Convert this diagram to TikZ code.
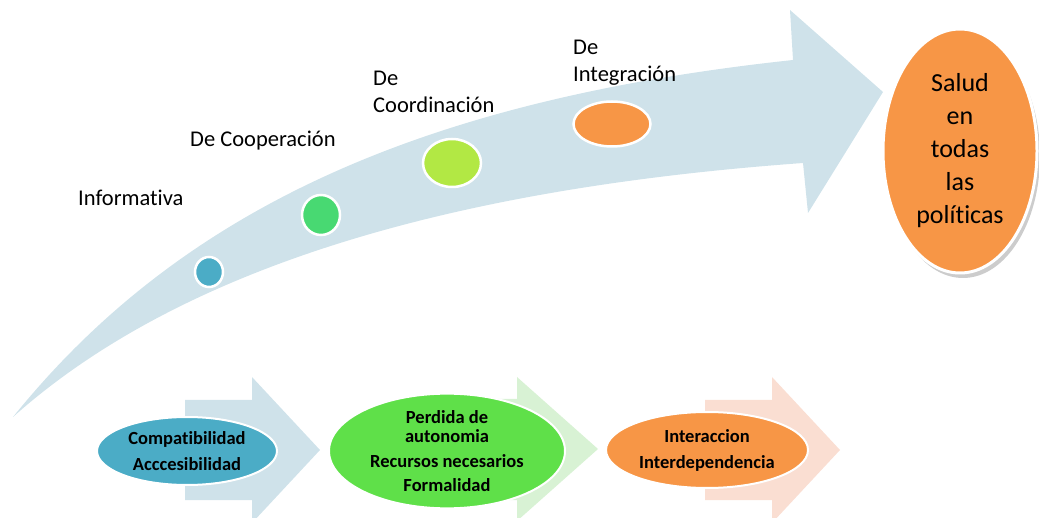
\documentclass[tikz,border=0pt]{standalone}
\usepackage{fontspec}
\setmainfont{Carlito}[Ligatures={NoCommon}]
\usetikzlibrary{shapes.geometric,shadows}

\definecolor{arrowblue}{RGB}{207,226,234}
\definecolor{arrowgreen}{RGB}{216,242,212}
\definecolor{arroworange}{RGB}{250,222,210}
\definecolor{infoblue}{RGB}{75,172,198}
\definecolor{coopgreen}{RGB}{72,217,114}
\definecolor{coordlime}{RGB}{178,232,68}
\definecolor{integorange}{RGB}{247,150,70}
\definecolor{perdgreen}{RGB}{95,224,73}

\begin{document}
\begin{tikzpicture}[x=1pt,y=-1pt,
  stage/.style={anchor=base west,inner sep=0pt,align=left,font=\fontsize{22.5}{27}\selectfont},
  dot/.style={shape=ellipse,draw=white,line width=2.5pt,inner sep=0pt},
  box/.style={shape=ellipse,draw=white,line width=2pt,inner sep=0pt,align=center,font=\bfseries\fontsize{18.5}{26}\selectfont}]
\useasboundingbox (0,0) rectangle (1039,518);
% big arrow
\fill[arrowblue] (13,417) .. controls (180,210) and (420,100) .. (793,60)
  -- (790,10) -- (883,92) -- (808,213) -- (803,163)
  .. controls (500,185) and (200,250) .. (13,417) -- cycle;
% bottom arrows
\fill[arrowblue] (185,400) -- (252,400) -- (252,377) -- (320,450) -- (252,523) -- (252,500) -- (185,500) -- cycle;
\fill[arrowgreen] (427,399) -- (517,399) -- (517,377) -- (598,449) -- (517,521) -- (517,500) -- (427,500) -- cycle;
\fill[arroworange] (705,400) -- (772,400) -- (772,377) -- (840,450) -- (772,523) -- (772,500) -- (705,500) -- cycle;
% stages
\node[dot,fill=infoblue,minimum width=28,minimum height=30] (A) at (209,272) {};
\node[dot,fill=coopgreen,minimum width=38,minimum height=40] (B) at (321,215) {};
\node[dot,fill=coordlime,minimum width=58,minimum height=48] (C) at (452,163) {};
\node[dot,fill=integorange,minimum width=77,minimum height=45] (D) at (612,124) {};
\node[stage] (LA) at (78,206) {Informativa};
\node[stage] (LB) at (190,147) {De Cooperación};
\node[stage] (LC) at (373,113) {De\\Coordinación};
\node[stage] (LD) at (573,82) {De\\Integración};
% goal
\node[shape=ellipse,draw=white,line width=3pt,fill=integorange,minimum width=154,minimum height=244,inner sep=0pt,align=center,
  font=\fontsize{26}{33}\selectfont,drop shadow={shadow xshift=3pt,shadow yshift=-5pt,opacity=0.4}] (E) at (960,151)
  {Salud\\en\\todas\\las\\políticas};
% bottom ellipses
\node[box,fill=infoblue,minimum width=180,minimum height=68] (F) at (187,451) {Compatibilidad\\Acccesibilidad};
\node[box,fill=perdgreen,minimum width=236,minimum height=93,font=\bfseries\fontsize{18.5}{19}\selectfont] (G) at (447,451)
  {Perdida de\\autonomia\\[6pt]Recursos necesarios\\[5pt]Formalidad};
\node[box,fill=integorange,minimum width=202,minimum height=76] (H) at (707,450) {Interaccion\\Interdependencia};
\end{tikzpicture}
\end{document}
